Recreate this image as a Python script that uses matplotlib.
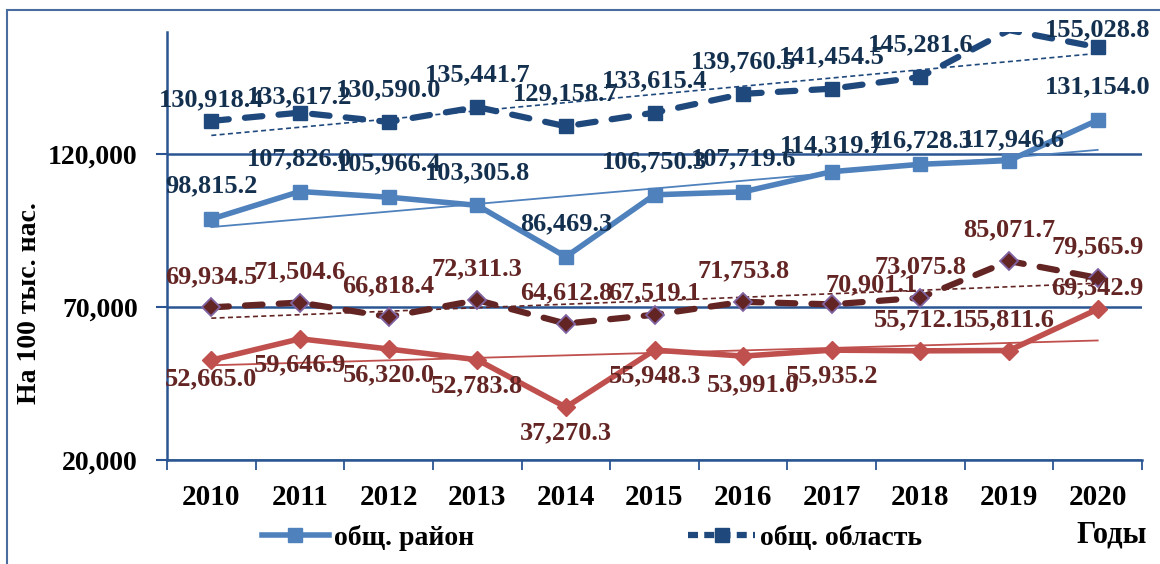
import matplotlib
matplotlib.use('Agg')

import numpy as np
import matplotlib.pyplot as plt
from matplotlib.lines import Line2D
from matplotlib.patches import Rectangle

# ============================================================
# DATA
# ============================================================

years = ['2010', '2011', '2012', '2013', '2014', '2015',
         '2016', '2017', '2018', '2019', '2020']

raion_total = [98815.2, 107826.0, 105966.4, 103305.8, 86469.3, 106750.3,
               107719.6, 114319.7, 116728.3, 117946.6, 131154.0]

oblast_total = [130918.4, 133617.2, 130590.0, 135441.7, 129158.7, 133615.4,
                139760.5, 141454.5, 145281.6, 160600.0, 155028.8]

raion_red = [52665.0, 59646.9, 56320.0, 52783.8, 37270.3, 55948.3,
             53991.0, 55935.2, 55712.1, 55811.6, 69342.9]

oblast_red = [69934.5, 71504.6, 66818.4, 72311.3, 64612.8, 67519.1,
              71753.8, 70901.1, 73075.8, 85071.7, 79565.9]

legend_labels = ['общ. район', 'общ. область']

y_ticks = [20000, 70000, 120000]
y_max = 160000

# ============================================================
# STYLE
# ============================================================

LIGHT_BLUE = '#4F81BD'
DARK_BLUE = '#1F497D'
RED = '#C0504D'
DARK_RED = '#632523'
PURPLE = '#8064A2'
NAVY_TEXT = '#14304F'
AXIS_BLUE = '#2B5592'

plt.rcParams['font.family'] = ['Liberation Serif', 'DejaVu Serif']
plt.rcParams['font.weight'] = 'bold'

fig = plt.figure(figsize=(11.6, 5.64), dpi=100)
ax = fig.add_axes([167 / 1160, 1 - 460 / 564, (1142 - 167) / 1160, (460 - 32) / 564])

x = np.arange(len(years))

# ------------------------------------------------------------
# trendlines
# ------------------------------------------------------------

def trend(values):
    k, b = np.polyfit(x, values, 1)
    return k * x + b

ax.plot(x, trend(raion_total), color=LIGHT_BLUE, lw=1.3, zorder=2)
ax.plot(x, trend(raion_red), color=RED, lw=1.3, zorder=2)
ax.plot(x, trend(oblast_total), color=DARK_BLUE, lw=1.2,
        dashes=(3, 2), zorder=2)
ax.plot(x, trend(oblast_red), color=DARK_RED, lw=1.2,
        dashes=(3, 2), zorder=2)

# ------------------------------------------------------------
# series
# ------------------------------------------------------------

visible = [i for i in range(len(years)) if oblast_total[i] <= y_max]

ax.plot(x, raion_total, color=LIGHT_BLUE, lw=4, marker='s',
        markersize=10.5, zorder=4)

ax.plot(x, oblast_total, color=DARK_BLUE, lw=4.5, marker='s',
        markersize=10.5, markevery=visible, dashes=(2.8, 2.6),
        dash_capstyle='round', zorder=4)

ax.plot(x, raion_red, color=RED, lw=4, marker='D',
        markersize=9, zorder=4)

ax.plot(x, oblast_red, color=DARK_RED, lw=4.5, marker='D',
        markersize=9, markeredgecolor=PURPLE, markeredgewidth=1.3,
        dashes=(2.8, 2.6), dash_capstyle='round', zorder=4)

# ------------------------------------------------------------
# data labels (offsets in pixels)
# ------------------------------------------------------------

def add_labels(values, color, dy, extra=None):
    extra = extra or {}
    for i, v in enumerate(values):
        if v > y_max:
            continue
        ox, oy = extra.get(i, (0, dy))
        ax.annotate(f'{v:,.1f}', (x[i], v), xytext=(ox, oy),
                    textcoords='offset pixels', ha='center', va='center',
                    fontsize=19, fontweight='bold', color=color, zorder=6)

add_labels(oblast_total, NAVY_TEXT, 32,
           {0: (0, 21), 1: (0, 16), 10: (0, 17)})
add_labels(raion_total, NAVY_TEXT, 33,
           {7: (0, 26), 8: (0, 23), 9: (4, 21)})
add_labels(oblast_red, DARK_RED, 31,
           {5: (0, 22), 7: (40, 20)})
add_labels(raion_red, DARK_RED, -26,
           {0: (0, -19), 6: (10, -29), 8: (0, 31), 9: (0, 31), 10: (0, 21)})

# ------------------------------------------------------------
# axes
# ------------------------------------------------------------

ax.set_xlim(-0.5, len(years) - 0.5)
ax.set_ylim(y_ticks[0], y_max)

ax.set_yticks(y_ticks)
ax.set_yticklabels([f'{t:,}' for t in y_ticks])
ax.tick_params(axis='y', length=8, width=1.5, color=AXIS_BLUE,
               labelsize=20, pad=13)

ax.set_xticks(x)
ax.set_xticklabels(years)
ax.set_xticks(np.arange(-0.5, len(years)), minor=True)
ax.tick_params(axis='x', which='major', length=0, labelsize=21, pad=17)
ax.tick_params(axis='x', which='minor', length=7, width=1.3, color=AXIS_BLUE)

for t in ax.get_xticklabels() + ax.get_yticklabels():
    t.set_fontweight('bold')

ax.yaxis.grid(True, color=AXIS_BLUE, lw=1.8)
ax.set_axisbelow(True)

for side in ['top', 'right']:
    ax.spines[side].set_visible(False)
for side in ['left', 'bottom']:
    ax.spines[side].set_color(AXIS_BLUE)
    ax.spines[side].set_linewidth(1.8)

# ------------------------------------------------------------
# texts, legend, border
# ------------------------------------------------------------

fig.text(30 / 1160, 1 - 303 / 564, 'На 100 тыс. нас.', rotation=90,
         ha='center', va='center', fontsize=20, fontweight='bold')

fig.text(1147 / 1160, 1 - 535 / 564, 'Годы', ha='right', va='center',
         fontsize=22, fontweight='bold')

handles = [
    Line2D([], [], color=LIGHT_BLUE, lw=4, marker='s', markersize=10.5),
    Line2D([], [], color=DARK_BLUE, lw=4.5, marker='s', markersize=10.5,
           dashes=(1.6, 1.0)),
]

fig.legend(handles, legend_labels, loc='center left',
           bbox_to_anchor=(262 / 1160, 1 - 538 / 564), ncol=2,
           frameon=False, handlelength=2.4, handletextpad=0.2,
           columnspacing=7.7, borderaxespad=0, borderpad=0,
           prop={'size': 20, 'weight': 'bold'})

fig.patches.append(Rectangle((7 / 1160, -0.1), 1.2, 1 - 10 / 564 + 0.1,
                             transform=fig.transFigure, fill=False,
                             edgecolor='#4A6C9E', lw=1.5))

plt.savefig('out.png', dpi=100)
